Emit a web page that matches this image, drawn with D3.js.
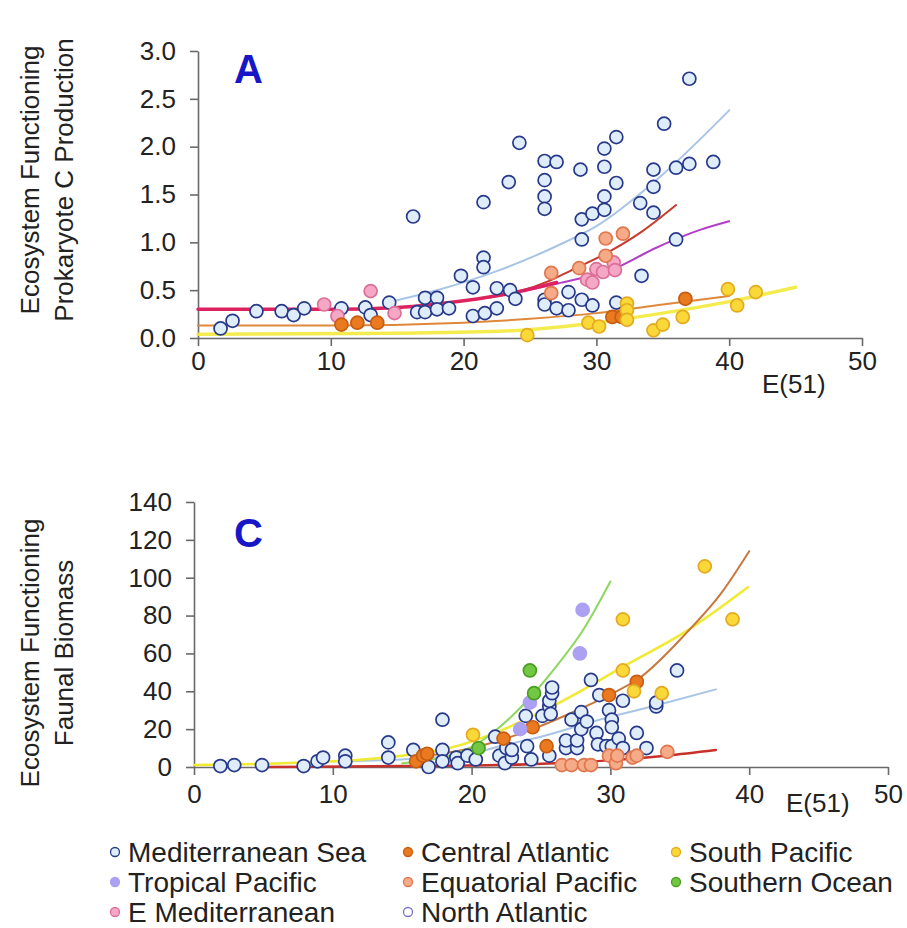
<!DOCTYPE html>
<html><head><meta charset="utf-8">
<script src="https://cdn.jsdelivr.net/npm/d3@7"></script>
<style>
body{margin:0;background:#fff}
svg{display:block}
text{font-family:"Liberation Sans",Arial,sans-serif;fill:#222}
</style>
</head><body>
<svg id="chart" width="907" height="928"></svg>
<script>
// ---------- tick labels ----------
const xTicks = [0, 10, 20, 30, 40, 50];
const yTicksA = [0, 0.5, 1.0, 1.5, 2.0, 2.5, 3.0];
const yTicksC = [0, 20, 40, 60, 80, 100, 120, 140];
const xLabel = "E(51)";
const titleA = ["Ecosystem Functioning", "Prokaryote C Production"];
const titleC = ["Ecosystem Functioning", "Faunal Biomass"];

// ---------- legend categories ----------
const regions = ["Mediterranean Sea", "Central Atlantic", "South Pacific",
  "Tropical Pacific", "Equatorial Pacific", "Southern Ocean",
  "E Mediterranean", "North Atlantic"];

// ---------- panel A: prokaryote C production ----------
const aMed = [[1.7,0.10],[2.6,0.18],[4.4,0.28],[6.3,0.28],[7.2,0.24],[8.0,0.31],[10.8,0.31],[12.6,0.32],[13.0,0.24],[14.4,0.37],[16.2,1.27],[16.5,0.27],[17.1,0.42],[17.1,0.27],[18.0,0.42],[18.0,0.30],[18.9,0.31],[19.8,0.65],[20.7,0.53],[20.7,0.23],[21.5,1.42],[21.5,0.84],[21.5,0.74],[21.6,0.26],[22.5,0.52],[22.5,0.31],[23.4,1.63],[23.5,0.50],[23.9,0.41],[24.2,2.04],[26.1,1.85],[26.1,1.65],[26.1,1.48],[26.1,1.35],[26.1,0.40],[26.1,0.35],[27.0,1.84],[27.0,0.31],[27.9,0.29],[27.9,0.48],[28.8,1.76],[28.9,1.24],[28.9,1.03],[28.9,0.40],[29.7,1.30],[29.7,0.34],[30.6,1.98],[30.6,1.79],[30.6,1.48],[30.6,1.34],[31.5,2.10],[31.5,1.62],[31.5,0.37],[33.3,1.41],[33.4,0.65],[34.3,1.76],[34.3,1.58],[34.3,1.31],[35.1,2.24],[36.0,1.78],[36.0,1.03],[37.0,2.71],[37.0,1.82],[38.8,1.84]];
const aCentral = [[10.8,0.14],[12.0,0.16],[13.5,0.16],[31.2,0.22],[31.9,0.22],[36.7,0.41]];
const aSouthPac = [[24.8,0.03],[29.4,0.16],[30.2,0.12],[32.3,0.36],[32.3,0.29],[32.3,0.19],[34.3,0.08],[35.0,0.14],[36.5,0.22],[39.9,0.51],[40.6,0.34],[42.0,0.48]];
const aEquatorial = [[26.6,0.68],[26.6,0.47],[28.7,0.73],[30.7,1.04],[32.0,1.09],[30.7,0.86]];
const aEMed = [[9.5,0.35],[10.5,0.23],[13.0,0.49],[14.8,0.26],[29.3,0.61],[29.7,0.58],[30.0,0.72],[30.5,0.69],[31.3,0.79],[31.4,0.71]];

// fitted curves, panel A
const aFitBlue = [[14.5,0.38],[18,0.50],[22.7,0.71],[27.3,0.98],[30,1.17],[34.5,1.65],[40,2.38]];
const aFitCrimson = [[0,0.30],[10,0.30],[15,0.32],[20,0.39],[24,0.48],[27,0.58]];
const aFitRed = [[20,0.39],[24,0.48],[26.5,0.60],[28,0.70],[31.2,0.92],[33.5,1.12],[36,1.39]];
const aFitMagenta = [[24,0.48],[27.1,0.57],[31.6,0.74],[34.3,0.93],[37.8,1.13],[40,1.22]];
const aFitOrange = [[0,0.13],[10,0.13],[20,0.16],[25,0.20],[30,0.26],[35,0.35],[40,0.44]];
const aFitYellow = [[0,0.04],[15,0.05],[22.7,0.07],[30,0.16],[35,0.26],[40,0.38],[45,0.53]];

// ---------- panel C: faunal biomass ----------
const cMed = [[1.9,0.5],[2.9,1],[4.9,1],[7.9,0.5],[8.9,3],[9.3,5],[10.9,6],[10.9,3],[14.0,13],[14.0,5],[15.8,9],[16.9,0],[17.9,25],[17.9,9],[17.9,3],[18.9,5],[19.0,2],[19.7,6],[20.3,4],[21.7,16],[22.0,6],[22.4,2],[22.5,10],[22.9,5],[22.9,9],[23.9,27],[24.0,11],[24.3,4],[25.1,27],[25.6,6],[25.6,32],[25.6,35],[25.7,28],[25.8,39],[25.8,42],[26.8,10],[26.8,14],[27.2,25],[27.6,10],[27.6,14],[27.9,20],[27.9,29],[28.3,24],[28.6,46],[29.0,18],[29.1,12],[29.2,38],[29.7,11],[29.9,30],[30.1,25],[30.1,21],[30.1,11],[30.6,15],[30.9,35],[30.9,10],[31.9,18],[32.6,10],[33.3,32],[33.3,34],[34.8,51]];
const cCentral = [[16.0,3],[16.5,6],[16.8,7],[22.3,15],[24.4,21],[25.4,11],[29.9,38],[31.9,45]];
const cSouthPac = [[20.1,17],[30.9,51],[30.9,78],[31.7,40],[33.7,39],[36.8,106],[38.8,78]];
const cTropical = [[23.5,20],[24.2,34],[27.8,60],[28.0,83]];
const cEquatorial = [[26.5,1],[27.2,1],[28.1,1],[28.6,1],[29.9,6],[30.4,2],[30.5,6],[31.6,5],[31.9,6],[34.1,8]];
const cSouthern = [[20.5,10],[24.2,51],[24.5,39]];

// fitted curves, panel C
const cFitGreen = [[15,2],[18.4,6],[20.1,11],[21.5,18],[24,35],[26.3,55],[28,72],[30,98]];
const cFitYellow = [[0,1],[10,3],[15,6],[18.4,10],[22,19],[25.8,32],[31.4,55],[35.3,71],[39.9,95]];
const cFitOrange = [[16,5],[20,10],[22,14],[24.4,20],[27,28],[29.9,38],[32.1,47],[35.5,71],[38,92],[40,114]];
const cFitBlue = [[10,3],[15,4],[20,7],[22,11],[25,16],[29.2,25],[33,32],[37.6,41]];
const cFitRed = [[5,0],[15,0.5],[22,1],[26,2],[29.9,3.5],[34,6],[37.6,9]];

// ---------- styles ----------
const regionFill = ["#dfecf9","#ea7a20","#f9d838","#aba0f2","#f6ab88","#72c842","#f5a8c6","#ffffff"];
const regionStroke = ["#27398a","#c85d12","#e3aa22","#aba0f2","#e0764e","#4a9e22","#dc6f98","#7a74c4"];

const svg = d3.select("#chart");
const FONT = 26;

function panel(opts) {
  const x = d3.scaleLinear().domain([0, 50]).range(opts.xr);
  const y = d3.scaleLinear().domain(opts.yd).range(opts.yr);
  const g = svg.append("g");

  // axes
  const ax = g.append("g").attr("transform", `translate(0,${opts.yr[0]})`)
    .call(d3.axisBottom(x).tickValues(xTicks).tickSize(8).tickSizeOuter(0).tickPadding(opts.xPad).tickFormat(d3.format("d")));
  const ay = g.append("g").attr("transform", `translate(${opts.xr[0]},0)`)
    .call(d3.axisLeft(y).tickValues(opts.yTicks).tickSize(8).tickSizeOuter(0).tickPadding(14).tickFormat(opts.fmt));
  [ax, ay].forEach(a => {
    a.selectAll("path,line").attr("stroke", "#6a6a6a").attr("stroke-width", 1.6);
    a.selectAll("text").attr("font-size", FONT).attr("fill", "#222")
      .attr("font-family", '"Liberation Sans",Arial,sans-serif');
  });

  // x label
  g.append("text").attr("x", opts.xlx).attr("y", opts.xly).attr("font-size", FONT).text(xLabel);

  // y titles
  opts.titles.forEach((t, i) => {
    g.append("text").attr("transform", `translate(${[39, 73][i]},${opts.tcy}) rotate(-90)`)
      .attr("text-anchor", "middle").attr("font-size", FONT).text(t);
  });

  // panel letter
  g.append("text").attr("x", 234).attr("y", opts.ly).attr("font-size", 40)
    .attr("font-weight", "bold").style("fill", "#1717c8").text(opts.letter);

  // curves
  const line = d3.line().x(d => x(d[0])).y(d => y(d[1])).curve(d3.curveMonotoneX);
  opts.fits.forEach(f => {
    g.append("path").attr("d", line(f.data)).attr("fill", "none")
      .attr("stroke", f.color).attr("stroke-width", f.w).attr("stroke-opacity", f.op || 1)
      .attr("stroke-linecap", "round");
  });

  // points
  opts.series.forEach(s => {
    g.append("g").selectAll("circle").data(s.data).join("circle")
      .attr("cx", d => x(d[0])).attr("cy", d => y(d[1])).attr("r", 6.5)
      .attr("fill", regionFill[s.k]).attr("stroke", regionStroke[s.k]).attr("stroke-width", 1.7);
  });
}

panel({
  xr: [198, 862], yd: [0, 3], yr: [338, 51], yTicks: yTicksA, fmt: d3.format(".1f"),
  xPad: 6, xlx: 762, xly: 393, titles: titleA, tcy: 180, letter: "A", ly: 83,
  fits: [
    {data: aFitYellow, color: "#f3ea3c", w: 3.5, op: 0.9},
    {data: aFitOrange, color: "#e0883a", w: 2},
    {data: aFitBlue, color: "#a9c5e6", w: 2},
    {data: aFitMagenta, color: "#b23ec8", w: 2},
    {data: aFitRed, color: "#c73a2e", w: 2},
    {data: aFitCrimson, color: "#dc2360", w: 3.5}
  ],
  series: [
    {data: aMed, k: 0}, {data: aEMed, k: 6}, {data: aEquatorial, k: 4},
    {data: aCentral, k: 1}, {data: aSouthPac, k: 2}
  ]
});

panel({
  xr: [194, 888], yd: [0, 140], yr: [767, 502], yTicks: yTicksC, fmt: d3.format("d"),
  xPad: 10, xlx: 786, xly: 812, titles: titleC, tcy: 653, letter: "C", ly: 547,
  fits: [
    {data: cFitRed, color: "#c8302a", w: 2.5},
    {data: cFitBlue, color: "#a9c5e6", w: 2},
    {data: cFitYellow, color: "#f0ea30", w: 2.5},
    {data: cFitOrange, color: "#c8783c", w: 2},
    {data: cFitGreen, color: "#8cd85c", w: 2}
  ],
  series: [
    {data: cMed, k: 0}, {data: cEquatorial, k: 4}, {data: cCentral, k: 1},
    {data: cTropical, k: 3}, {data: cSouthern, k: 5}, {data: cSouthPac, k: 2}
  ]
});

// legend
const colX = [115, 408, 676];
const rowY = [852, 882, 912];
const lg = svg.append("g");
regions.forEach((r, i) => {
  const cx = colX[i % 3], cy = rowY[Math.floor(i / 3)];
  lg.append("circle").attr("cx", cx).attr("cy", cy).attr("r", 4.5)
    .attr("fill", regionFill[i]).attr("stroke", regionStroke[i]).attr("stroke-width", 1.3);
  lg.append("text").attr("x", cx + 13).attr("y", cy).attr("dy", "0.36em")
    .attr("font-size", 28).text(r);
});
</script>
</body></html>
